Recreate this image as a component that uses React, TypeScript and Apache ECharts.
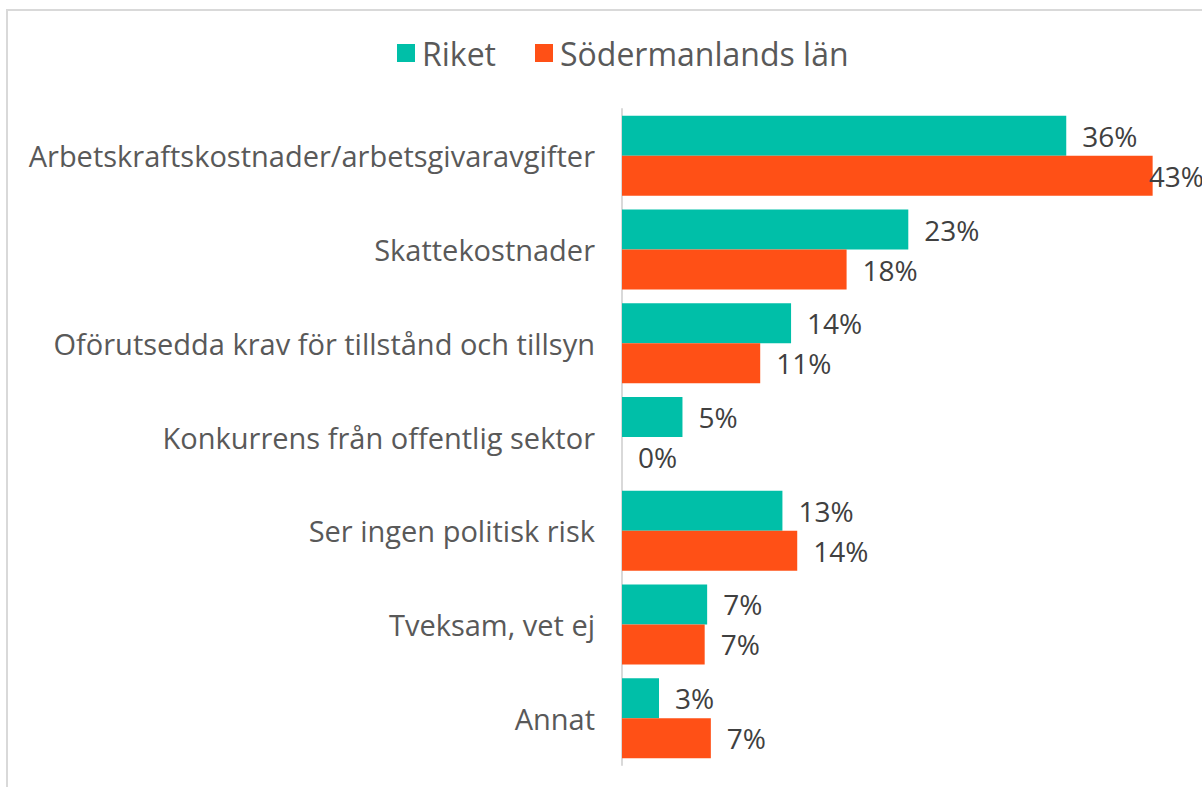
import React, { useEffect, useRef } from "react";
import * as echarts from "echarts";

const categories = [
  "Arbetskraftskostnader/arbetsgivaravgifter",
  "Skattekostnader",
  "Oförutsedda krav för tillstånd och tillsyn",
  "Konkurrens från offentlig sektor",
  "Ser ingen politisk risk",
  "Tveksam, vet ej",
  "Annat",
];
const riket = [36.0, 23.2, 13.7, 4.9, 13.0, 6.9, 3.0];
const sodermanland = [43.0, 18.2, 11.2, 0, 14.2, 6.7, 7.2];
const seriesNames = ["Riket", "Södermanlands län"];
const colors = ["#00BFA8", "#FF5016"];

const FONT = "'Open Sans', sans-serif";

export default function App() {
  const ref = useRef<HTMLDivElement>(null);
  useEffect(() => {
    if (!ref.current) return;
    const chart = echarts.init(ref.current, undefined, { renderer: "svg" });
    const label = {
      show: true,
      position: "right" as const,
      distance: 16,
      fontSize: 28,
      color: "#404040",
      fontFamily: FONT,
      formatter: (p: any) => Math.round(p.value) + "%",
    };
    const maxVal = Math.max(...sodermanland);
    chart.setOption({
      animation: false,
      textStyle: { fontFamily: FONT },
      graphic: [
        {
          type: "rect",
          shape: { x: 7, y: 10, width: 1400, height: 1000 },
          style: { fill: "none", stroke: "#d9d9d9", lineWidth: 2 },
          silent: true,
        },
      ],
      legend: {
        top: 32,
        left: 392,
        itemWidth: 18,
        itemHeight: 18,
        itemGap: 39,
        icon: "rect",
        textStyle: { fontSize: 32, color: "#595959", fontFamily: FONT, padding: [0, 0, 0, 2] },
        data: seriesNames,
      },
      grid: { left: 622, top: 109, height: 656, right: 0, containLabel: false },
      xAxis: {
        type: "value",
        min: 0,
        max: 47,
        show: false,
      },
      yAxis: {
        type: "category",
        inverse: true,
        data: categories,
        axisLine: { show: true, lineStyle: { color: "#d9d9d9", width: 2 } },
        axisTick: { show: false },
        axisLabel: { fontSize: 29, color: "#595959", margin: 27, fontFamily: FONT },
      },
      series: [
        {
          name: seriesNames[0],
          type: "bar",
          data: riket,
          barWidth: 40,
          barGap: "0%",
          itemStyle: { color: colors[0] },
          label,
        },
        {
          name: seriesNames[1],
          type: "bar",
          data: sodermanland.map((v) =>
            v === maxVal ? { value: v, label: { distance: -4 } } : v
          ),
          barWidth: 40,
          barGap: "0%",
          itemStyle: { color: colors[1] },
          label,
        },
      ],
    });
    return () => chart.dispose();
  }, []);
  return (
    <div
      ref={ref}
      style={{ position: "fixed", left: 0, top: 0, width: 1202, height: 787, background: "#fff" }}
    />
  );
}
